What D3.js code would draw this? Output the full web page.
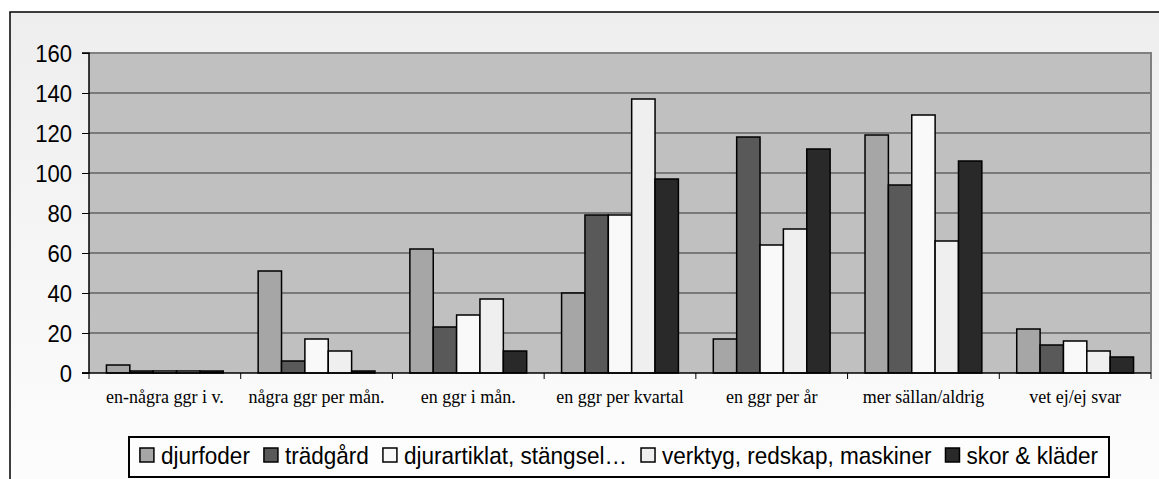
<!DOCTYPE html>
<html>
<head>
<meta charset="utf-8">
<script src="https://cdn.jsdelivr.net/npm/d3@7"></script>
<style>
  body { margin: 0; background: #ffffff; }
  svg { display: block; }
</style>
</head>
<body>
<div id="chart"></div>
<script>
// data
const categories = ["en-några ggr i v.", "några ggr per mån.", "en ggr i mån.", "en ggr per kvartal", "en ggr per år", "mer sällan/aldrig", "vet ej/ej svar"];
const seriesNames = ["djurfoder", "trädgård", "djurartiklat, stängsel…", "verktyg, redskap, maskiner", "skor & kläder"];
const djurfoder = [4, 51, 62, 40, 17, 119, 22];
const tradgard = [1, 6, 23, 79, 118, 94, 14];
const djurartiklat = [1, 17, 29, 79, 64, 129, 16];
const verktyg = [1, 11, 37, 137, 72, 66, 11];
const skor = [1, 1, 11, 97, 112, 106, 8];
const yTicks = [0, 20, 40, 60, 80, 100, 120, 140, 160];

const seriesValues = [djurfoder, tradgard, djurartiklat, verktyg, skor];
const colors = ["#a6a6a6", "#595959", "#f9f9f9", "#efefef", "#292929"];

const width = 1159, height = 479;
const margin = {top: 53, right: 8, bottom: 106, left: 89};
const plotW = width - margin.left - margin.right;
const plotH = height - margin.top - margin.bottom;
const squeeze = 0.92;    // sans text in the picture is a bit narrow
const legSqueeze = 0.94;

const svg = d3.select('#chart').append('svg')
    .attr('width', width)
    .attr('height', height);

// outer chart area with a faint gradient
const defs = svg.append('defs');
const grad = defs.append('linearGradient').attr('id', 'bg').attr('x1', 0).attr('y1', 0).attr('x2', 0).attr('y2', 1);
grad.append('stop').attr('offset', '0%').attr('stop-color', '#eeeeee');
grad.append('stop').attr('offset', '100%').attr('stop-color', '#fdfdfd');

svg.append('rect')
    .attr('x', 10).attr('y', 12)
    .attr('width', width).attr('height', height)
    .attr('fill', 'url(#bg)')
    .attr('stroke', '#000').attr('stroke-width', 1.5);

const g = svg.append('g').attr('transform', `translate(${margin.left},${margin.top})`);

const x = d3.scaleBand()
    .domain(categories)
    .range([0, plotW])
    .paddingInner(0.23)
    .paddingOuter(0.115);

const xEdge = d3.scaleLinear().domain([0, categories.length]).range([0, plotW]);

const x1 = d3.scaleBand()
    .domain(seriesNames)
    .range([0, x.bandwidth()]);

const y = d3.scaleLinear().domain([0, 160]).range([plotH, 0]);

// plot background
g.append('rect')
    .attr('width', plotW).attr('height', plotH)
    .attr('fill', '#c0c0c0');

// gridlines
g.selectAll('line.grid')
    .data(yTicks.filter(d => d > 0))
    .join('line')
    .attr('class', 'grid')
    .attr('x1', 0).attr('x2', plotW)
    .attr('y1', d => y(d)).attr('y2', d => y(d))
    .attr('stroke', '#333').attr('stroke-width', 1);

// plot border on top and right
g.append('path')
    .attr('d', `M0,0H${plotW}V${plotH}`)
    .attr('fill', 'none')
    .attr('stroke', '#808080').attr('stroke-width', 2);

// bars
const groups = g.selectAll('g.cat')
    .data(categories)
    .join('g')
    .attr('class', 'cat')
    .attr('transform', d => `translate(${x(d)},0)`);

groups.selectAll('rect')
    .data((c, i) => seriesNames.map((s, j) => ({s, j, v: seriesValues[j][i]})))
    .join('rect')
    .attr('x', d => x1(d.s))
    .attr('y', d => y(d.v))
    .attr('width', x1.bandwidth())
    .attr('height', d => plotH - y(d.v))
    .attr('fill', d => colors[d.j])
    .attr('stroke', '#000')
    .attr('stroke-width', 1.5);

// y axis
const yAxis = g.append('g')
    .call(d3.axisLeft(y).tickValues(yTicks).tickSize(7));
yAxis.select('.domain').attr('stroke', '#000').attr('stroke-width', 1.5).attr('d', `M-7,${plotH}H0V0H-7`);
yAxis.selectAll('.tick line').attr('stroke', '#000');
yAxis.selectAll('text')
    .attr('x', -17 / squeeze)
    .attr('dy', '0.36em')
    .attr('transform', `scale(${squeeze},1)`)
    .attr('font-family', 'Liberation Sans, Arial, sans-serif')
    .attr('font-size', '24px')
    .attr('fill', '#000');

// x axis: ticks on category boundaries
const xAxis = g.append('g').attr('transform', `translate(0,${plotH})`);
xAxis.append('line')
    .attr('x1', -7).attr('x2', plotW)
    .attr('stroke', '#000').attr('stroke-width', 1.5);
xAxis.selectAll('line.tick')
    .data(d3.range(categories.length + 1))
    .join('line')
    .attr('class', 'tick')
    .attr('x1', d => xEdge(d)).attr('x2', d => xEdge(d))
    .attr('y1', 0).attr('y2', 6)
    .attr('stroke', '#000');
xAxis.selectAll('text')
    .data(categories)
    .join('text')
    .attr('x', d => x(d) + x.bandwidth() / 2)
    .attr('y', 30)
    .attr('text-anchor', 'middle')
    .attr('font-family', '"Liberation Serif", "Times New Roman", serif')
    .attr('font-size', '18px')
    .attr('fill', '#000')
    .text(d => d);

// legend
const legBox = {x: 129, y: 437, w: 980, h: 40};
svg.append('rect')
    .attr('x', legBox.x).attr('y', legBox.y)
    .attr('width', legBox.w).attr('height', legBox.h)
    .attr('fill', '#fdfdfd')
    .attr('stroke', '#000').attr('stroke-width', 2);

const leg = svg.append('g');
const items = leg.selectAll('g')
    .data(seriesNames)
    .join('g');
items.append('rect')
    .attr('width', 14).attr('height', 14)
    .attr('y', -16)
    .attr('fill', (d, i) => colors[i])
    .attr('stroke', '#000').attr('stroke-width', 1.5);
items.append('text')
    .attr('x', 21 / legSqueeze)
    .attr('transform', `scale(${legSqueeze},1)`)
    .attr('font-family', 'Liberation Sans, Arial, sans-serif')
    .attr('font-size', '24px')
    .attr('fill', '#000')
    .text(d => d);

let cx = 0;
const pos = [];
items.each(function() {
    const tw = d3.select(this).select('text').node().getComputedTextLength() * legSqueeze;
    pos.push(cx);
    cx += 21 + tw + 14;
});
const total = cx - 14;
const startX = legBox.x + (legBox.w - total) / 2;
items.attr('transform', (d, i) => `translate(${startX + pos[i]},${legBox.y + 27})`);
</script>
</body>
</html>
